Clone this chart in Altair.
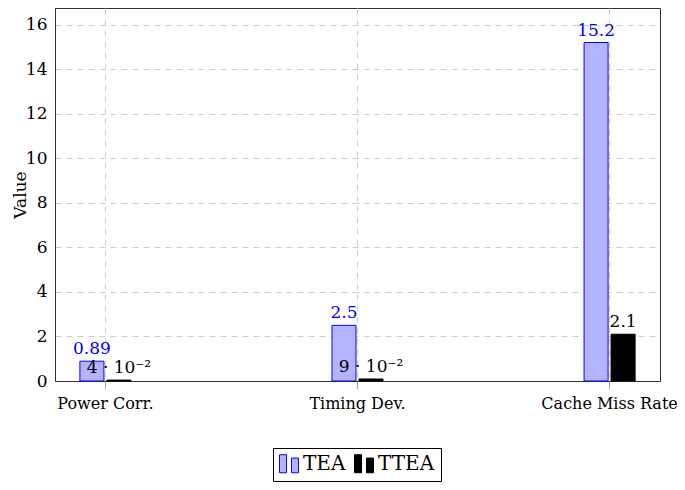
import altair as alt
import pandas as pd

categories = ["Power Corr.", "Timing Dev.", "Cache Miss Rate"]
series = ["TEA", "TTEA"]
tea_values = [0.89, 2.5, 15.2]
ttea_values = [0.04, 0.09, 2.1]
tea_labels = ["0.89", "2.5", "15.2"]
ttea_labels = ["4 · 10⁻²", "9 · 10⁻²", "2.1"]
y_ticks = [0, 2, 4, 6, 8, 10, 12, 14, 16]

rows = []
for c, v, l in zip(categories, tea_values, tea_labels):
    rows.append({"category": c, "series": "TEA", "value": v, "label": l})
for c, v, l in zip(categories, ttea_values, ttea_labels):
    rows.append({"category": c, "series": "TTEA", "value": v, "label": l})
df = pd.DataFrame(rows)

FONT = "DejaVu Serif"
FS = 17
FRAME = "#333333"

x = alt.X(
    "category:N", sort=categories,
    scale=alt.Scale(paddingInner=0.6, paddingOuter=0),
    axis=alt.Axis(title=None, labelAngle=0, grid=True, gridColor="#cccccc",
                  gridDash=[6, 5], domain=True, domainColor=FRAME, ticks=True,
                  tickColor="#aaaaaa", tickSize=8, labelPadding=6, labelFont=FONT,
                  labelFontSize=16, labelColor="black"),
)
xoff = alt.XOffset("series:N", sort=series,
                   scale=alt.Scale(domain=series, paddingInner=0.111, paddingOuter=0.922))
y = alt.Y(
    "value:Q",
    scale=alt.Scale(domain=[0, 16.75], nice=False, zero=True),
    axis=alt.Axis(values=y_ticks, title="Value", grid=True, gridColor="#cccccc",
                  gridDash=[6, 5], domain=True, domainColor=FRAME, ticks=False,
                  labelPadding=8, labelFont=FONT, labelFontSize=FS, labelColor="black",
                  titleFont=FONT, titleFontSize=FS, titleFontWeight="normal",
                  titleColor="black", titleX=-26),
)

legend = alt.Legend(
    title=None, orient="none", legendX=218, legendY=440, direction="horizontal",
    symbolType="M-1,-1H-0.26V0.9H-1Z M0.26,-0.65H1V0.9H0.26Z",
    symbolSize=361, symbolStrokeWidth=1, labelFont=FONT, labelFontSize=20,
    labelColor="black", strokeColor="black", padding=6, columnPadding=6,
    labelOffset=4, cornerRadius=0, fillColor="white",
)

bars = alt.Chart(df).mark_bar(strokeWidth=1).encode(
    x=x, xOffset=xoff, y=y,
    fill=alt.Fill("series:N", scale=alt.Scale(domain=series, range=["#b3b3ff", "#000000"]), legend=legend),
    stroke=alt.Stroke("series:N", scale=alt.Scale(domain=series, range=["#0000ff", "#000000"]), legend=legend),
)

labels = alt.Chart(df).mark_text(baseline="bottom", dy=-3, font=FONT, fontSize=FS).encode(
    x=x, xOffset=xoff, y=y, text="label:N",
    color=alt.condition(alt.datum.series == "TEA", alt.value("#0000ff"), alt.value("black")),
)

chart = alt.layer(bars, labels).properties(
    width=605, height=373,
    autosize=alt.AutoSizeParams(type="none"),
    padding={"left": 47, "top": 0, "right": 17, "bottom": 101},
).configure_view(stroke=FRAME, strokeWidth=1)

chart.save("out.html", embed_options={"renderer": "svg", "actions": False})
